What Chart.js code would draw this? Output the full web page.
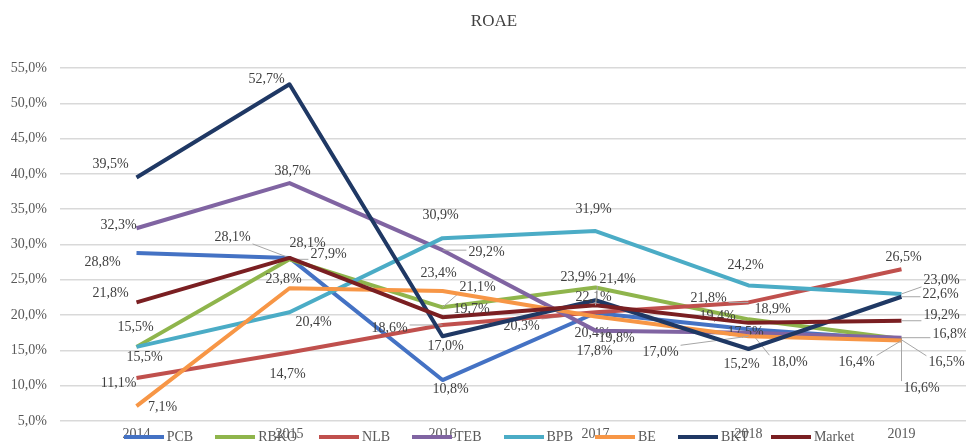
<!DOCTYPE html>
<html>
<head>
<meta charset="utf-8">
<script src="https://cdn.jsdelivr.net/npm/chart.js@4.4.1/dist/chart.umd.min.js"></script>
<style>
  html, body { margin: 0; padding: 0; background: #fff; overflow: hidden; }
  #wrap { position: relative; width: 978px; height: 443px; }
  #legend { position: absolute; left: 0; top: 429px; width: 978px; height: 16px;
    display: flex; justify-content: center; align-items: center;
    font-family: "Liberation Serif", "Times New Roman", serif; font-size: 14px; color: #595959; }
  .item { display: flex; align-items: center; margin: 0 11px; }
  .swatch { width: 40px; height: 4px; margin-right: 3px; }
</style>
</head>
<body>
<div id="wrap">
  <canvas id="c"></canvas>
  <div id="legend"></div>
</div>
<script>
const categories = ['2014', '2015', '2016', '2017', '2018', '2019'];
const seriesNames = ['PCB', 'RBKO', 'NLB', 'TEB', 'BPB', 'BE', 'BKT', 'Market'];
const pcb    = [28.8, 28.1, 10.8, 20.3, 18.0, 16.5];
const rbko   = [15.5, 27.9, 21.1, 23.9, 19.4, 16.6];
const nlb    = [11.1, 14.7, 18.6, 20.4, 21.8, 26.5];
const teb    = [32.3, 38.7, 29.2, 17.8, 17.5, 16.8];
const bpb    = [15.5, 20.4, 30.9, 31.9, 24.2, 23.0];
const be     = [7.1, 23.8, 23.4, 19.8, 17.0, 16.4];
const bkt    = [39.5, 52.7, 17.0, 22.1, 15.2, 22.6];
const market = [21.8, 28.1, 19.7, 21.4, 18.9, 19.2];
const yMin = 5, yMax = 55, yStep = 5;

const seriesValues = [pcb, rbko, nlb, teb, bpb, be, bkt, market];
const seriesColors = ['#4472C4', '#8FB54C', '#C0504D', '#8064A2', '#4BACC6', '#F79646', '#1F3864', '#7A1F22'];

// label placement (pixel offsets from the point), [dx, dy, leaderLine]
const labelOffsets = [
  [[-34, 9], [-57, -21, 1], [8, 9], [-74, 13, 1], [41, 33, 1], [45, 23, 1]],
  [[-1, -20], [39, -5, 1], [35, -20, 1], [-17, -10], [-31, -3], [20, 49, 1]],
  [[-18, 5], [-2, 22], [-53, 3, 1], [-3, 21], [-40, -4, 1], [2, -12]],
  [[-18, -3], [3, -12], [44, 2, 1], [-1, 21], [-3, 0], [49, -3, 1]],
  [[8, 10], [24, 10], [-2, -23], [-2, -22], [-3, -20], [40, -14, 1]],
  [[26, 1], [-6, -9], [-4, -18], [21, 22], [-88, 16, 1], [-45, 22, 1]],
  [[-26, -13], [-23, -5], [3, 10], [-2, -3], [-7, 15], [39, -2, 1]],
  [[-26, -9], [18, -15], [29, -8], [22, -26, 1], [24, -14], [40, -5, 1]]
];

const fmt = v => v.toFixed(1).replace('.', ',') + '%';
const serif = '"Liberation Serif", "Times New Roman", serif';

const labelPlugin = {
  id: 'pointLabels',
  afterDatasetDraw(chart, args) {
    const i = args.index;
    const meta = args.meta;
    const ctx = chart.ctx;
    ctx.save();
    ctx.font = '14px ' + serif;
    ctx.textAlign = 'center';
    ctx.textBaseline = 'middle';
    meta.data.forEach((pt, j) => {
      const v = chart.data.datasets[i].data[j];
      const off = labelOffsets[i][j];
      const txt = fmt(v);
      const lx = pt.x + off[0], ly = pt.y + off[1];
      if (off[2]) {
        const w = ctx.measureText(txt).width / 2 + 2, h = 7;
        const sx = Math.max(lx - w, Math.min(pt.x, lx + w));
        const sy = Math.max(ly - h, Math.min(pt.y, ly + h));
        ctx.strokeStyle = '#a6a6a6';
        ctx.lineWidth = 1;
        ctx.beginPath();
        ctx.moveTo(sx, sy);
        ctx.lineTo(pt.x, pt.y);
        ctx.stroke();
      }
      ctx.fillStyle = '#404040';
      ctx.fillText(txt, lx, ly);
    });
    ctx.restore();
  }
};

const datasets = seriesNames.map((name, i) => ({
  label: name,
  data: seriesValues[i],
  borderColor: seriesColors[i],
  backgroundColor: seriesColors[i],
  borderWidth: 4,
  pointRadius: 0,
  pointHoverRadius: 0,
  tension: 0,
  borderJoinStyle: 'round',
  fill: false,
  order: seriesNames.length - i
}));

new Chart(document.getElementById('c'), {
  type: 'line',
  data: { labels: categories, datasets },
  options: {
    responsive: true,
    maintainAspectRatio: false,
    animation: false,
    events: [],
    layout: { padding: { left: 10, right: 0, top: 0, bottom: 0 } },
    plugins: {
      legend: { display: false },
      tooltip: { enabled: false },
      title: {
        display: true, text: 'ROAE', color: '#404040',
        font: { family: serif, size: 17, weight: 'normal' },
        padding: { top: 11, bottom: 36.6 }
      }
    },
    scales: {
      x: {
        offset: true,
        grid: { display: false, drawTicks: false },
        border: { display: false },
        ticks: { color: '#595959', font: { family: serif, size: 14 }, padding: 5 },
        afterFit: s => { s.height = 22; }
      },
      y: {
        min: yMin, max: yMax,
        grid: { color: '#d9d9d9', lineWidth: 1.5, drawTicks: false },
        border: { display: false },
        ticks: { stepSize: yStep, color: '#595959', font: { family: serif, size: 14 }, padding: 13,
          callback: v => fmt(v) },
        afterFit: s => { s.width = 50; }
      }
    }
  },
  plugins: [labelPlugin]
});

const legend = document.getElementById('legend');
seriesNames.forEach((name, i) => {
  const it = document.createElement('div');
  it.className = 'item';
  const sw = document.createElement('span');
  sw.className = 'swatch';
  sw.style.background = seriesColors[i];
  const tx = document.createElement('span');
  tx.textContent = name;
  it.appendChild(sw);
  it.appendChild(tx);
  legend.appendChild(it);
});
</script>
</body>
</html>
